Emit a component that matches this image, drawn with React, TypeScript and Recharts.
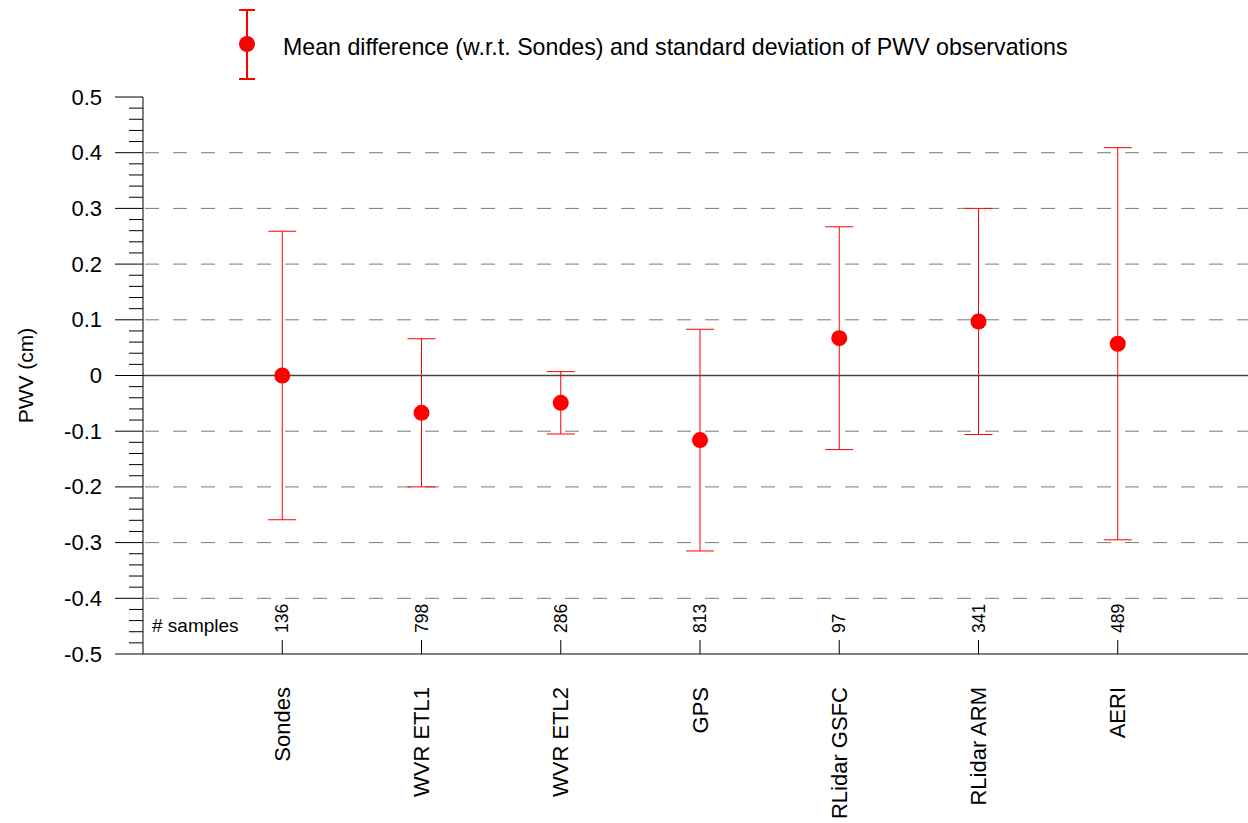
import { ComposedChart, Scatter, ErrorBar, XAxis, YAxis, ReferenceLine } from 'recharts'

const instruments = ['Sondes', 'WVR ETL1', 'WVR ETL2', 'GPS', 'RLidar GSFC', 'RLidar ARM', 'AERI']
const meanDiff = [0, -0.067, -0.049, -0.116, 0.067, 0.097, 0.057]
const stdDev = [0.259, 0.133, 0.056, 0.199, 0.2, 0.203, 0.352]
const samples = [136, 798, 286, 813, 97, 341, 489]
const majorTicks = [-0.5, -0.4, -0.3, -0.2, -0.1, 0, 0.1, 0.2, 0.3, 0.4, 0.5]
const dashedLevels = [-0.4, -0.3, -0.2, -0.1, 0.1, 0.2, 0.3, 0.4]

const FONT = 'Arial, "Liberation Sans", Helvetica, sans-serif'
const RED = '#ff0000'

const data = instruments.map((name, i) => ({
  pos: i + 1,
  name,
  mean: meanDiff[i],
  std: stdDev[i],
}))

// 4 minor ticks between each pair of major ones
const allTicks: number[] = []
majorTicks.forEach((t, i) => {
  allTicks.push(t)
  if (i < majorTicks.length - 1) {
    for (let k = 1; k < 5; k++) allTicks.push(Math.round((t + k * 0.02) * 100) / 100)
  }
})
const isMajor = (v: number) => Math.abs(v * 10 - Math.round(v * 10)) < 1e-6
const fmt = (v: number) => String(Math.round(v * 10) / 10)

// eslint-disable-next-line @typescript-eslint/no-explicit-any
function LeftTick({ x, y, payload }: any) {
  const major = isMajor(payload.value)
  return (
    <g>
      <line x1={x - (major ? 28 : 14)} x2={x} y1={y} y2={y} stroke="#000" />
      {major && (
        <text x={x - 41} y={y} textAnchor="end" dominantBaseline="central" fontSize={22} fontFamily={FONT} fill="#000">
          {fmt(payload.value)}
        </text>
      )}
    </g>
  )
}

// eslint-disable-next-line @typescript-eslint/no-explicit-any
function RightTick({ x, y, payload }: any) {
  const major = isMajor(payload.value)
  return <line x1={x - (major ? 28 : 14)} x2={x} y1={y} y2={y} stroke="#000" />
}

// eslint-disable-next-line @typescript-eslint/no-explicit-any
function BottomTick({ x, y, payload, index }: any) {
  return (
    <g>
      <line x1={x} x2={x} y1={y - 14} y2={y} stroke="#000" />
      <text
        x={x}
        y={y - 21}
        transform={`rotate(-90, ${x}, ${y - 21})`}
        textAnchor="start"
        dominantBaseline="central"
        fontSize={17.5}
        fontFamily={FONT}
        fill="#000"
      >
        {samples[index]}
      </text>
      <text
        x={x}
        y={y + 33}
        transform={`rotate(-90, ${x}, ${y + 33})`}
        textAnchor="end"
        dominantBaseline="central"
        fontSize={22}
        fontFamily={FONT}
        fill="#000"
      >
        {instruments[payload.value - 1]}
      </text>
    </g>
  )
}

// eslint-disable-next-line @typescript-eslint/no-explicit-any
function TopTick({ x, y }: any) {
  return <line x1={x} x2={x} y1={y} y2={y + 14} stroke="#000" />
}

function LegendOverlay() {
  return (
    <svg width={1248} height={95} style={{ position: 'absolute', left: 0, top: 0 }}>
      <line x1={247} x2={247} y1={10} y2={79} stroke={RED} strokeWidth={2} />
      <line x1={239} x2={255} y1={10} y2={10} stroke={RED} strokeWidth={2} />
      <line x1={239} x2={255} y1={79} y2={79} stroke={RED} strokeWidth={2} />
      <circle cx={247} cy={44} r={8} fill={RED} />
      <text x={283} y={47} dominantBaseline="central" fontSize={23.2} fontFamily={FONT} fill="#000">
        Mean difference (w.r.t. Sondes) and standard deviation of PWV observations
      </text>
    </svg>
  )
}

export default function App() {
  return (
    <div style={{ position: 'absolute', left: 0, top: 0, width: 1248, height: 823, overflow: 'hidden', background: '#fff' }}>
      <ComposedChart width={1262} height={823} data={data} margin={{ top: 97, right: 5, left: 0, bottom: 0 }}>
        {dashedLevels.map((v) => (
          <ReferenceLine key={v} y={v} stroke="#7a7a7a" strokeDasharray="14 14" strokeDashoffset={-2} />
        ))}
        <ReferenceLine y={0} stroke="#444" strokeWidth={1.5} />
        <ReferenceLine
          x={0}
          stroke="none"
          // eslint-disable-next-line @typescript-eslint/no-explicit-any
          label={({ viewBox }: any) => (
            <text
              x={viewBox.x + 9}
              y={viewBox.y + viewBox.height - 29}
              dominantBaseline="central"
              fontSize={19}
              fontFamily={FONT}
              fill="#000"
            >
              # samples
            </text>
          )}
        />
        <XAxis
          dataKey="pos"
          type="number"
          domain={[0, 8]}
          ticks={[1, 2, 3, 4, 5, 6, 7]}
          height={169}
          tickSize={0}
          tickMargin={0}
          tickLine={false}
          axisLine={{ stroke: '#000' }}
          tick={<BottomTick />}
          interval={0}
        />
        <XAxis
          xAxisId="top"
          orientation="top"
          dataKey="pos"
          type="number"
          domain={[0, 8]}
          ticks={[1, 2, 3, 4, 5, 6, 7]}
          height={0}
          tickSize={0}
          tickMargin={0}
          tickLine={false}
          axisLine={{ stroke: '#000' }}
          tick={<TopTick />}
          interval={0}
        />
        <YAxis
          type="number"
          domain={[-0.5, 0.5]}
          ticks={allTicks}
          width={143}
          tickSize={0}
          tickMargin={0}
          tickLine={false}
          axisLine={{ stroke: '#000' }}
          tick={<LeftTick />}
          interval={0}
          // eslint-disable-next-line @typescript-eslint/no-explicit-any
          label={({ viewBox }: any) => {
            const cx = viewBox.x + 25
            const cy = viewBox.y + viewBox.height / 2
            return (
              <text
                x={cx}
                y={cy}
                transform={`rotate(-90, ${cx}, ${cy})`}
                textAnchor="middle"
                dominantBaseline="central"
                fontSize={21}
                fontFamily={FONT}
                fill="#000"
              >
                PWV (cm)
              </text>
            )
          }}
        />
        <YAxis
          yAxisId="right"
          orientation="right"
          type="number"
          domain={[-0.5, 0.5]}
          ticks={allTicks}
          width={0}
          tickSize={0}
          tickMargin={0}
          tickLine={false}
          axisLine={{ stroke: '#000' }}
          tick={<RightTick />}
          interval={0}
        />
        <Scatter
          dataKey="mean"
          isAnimationActive={false}
          // eslint-disable-next-line @typescript-eslint/no-explicit-any
          shape={(p: any) => <circle cx={p.cx} cy={p.cy} r={8} fill={RED} />}
        >
          <ErrorBar dataKey="std" direction="y" width={14} stroke={RED} strokeWidth={1} isAnimationActive={false} />
        </Scatter>
      </ComposedChart>
      <LegendOverlay />
    </div>
  )
}
